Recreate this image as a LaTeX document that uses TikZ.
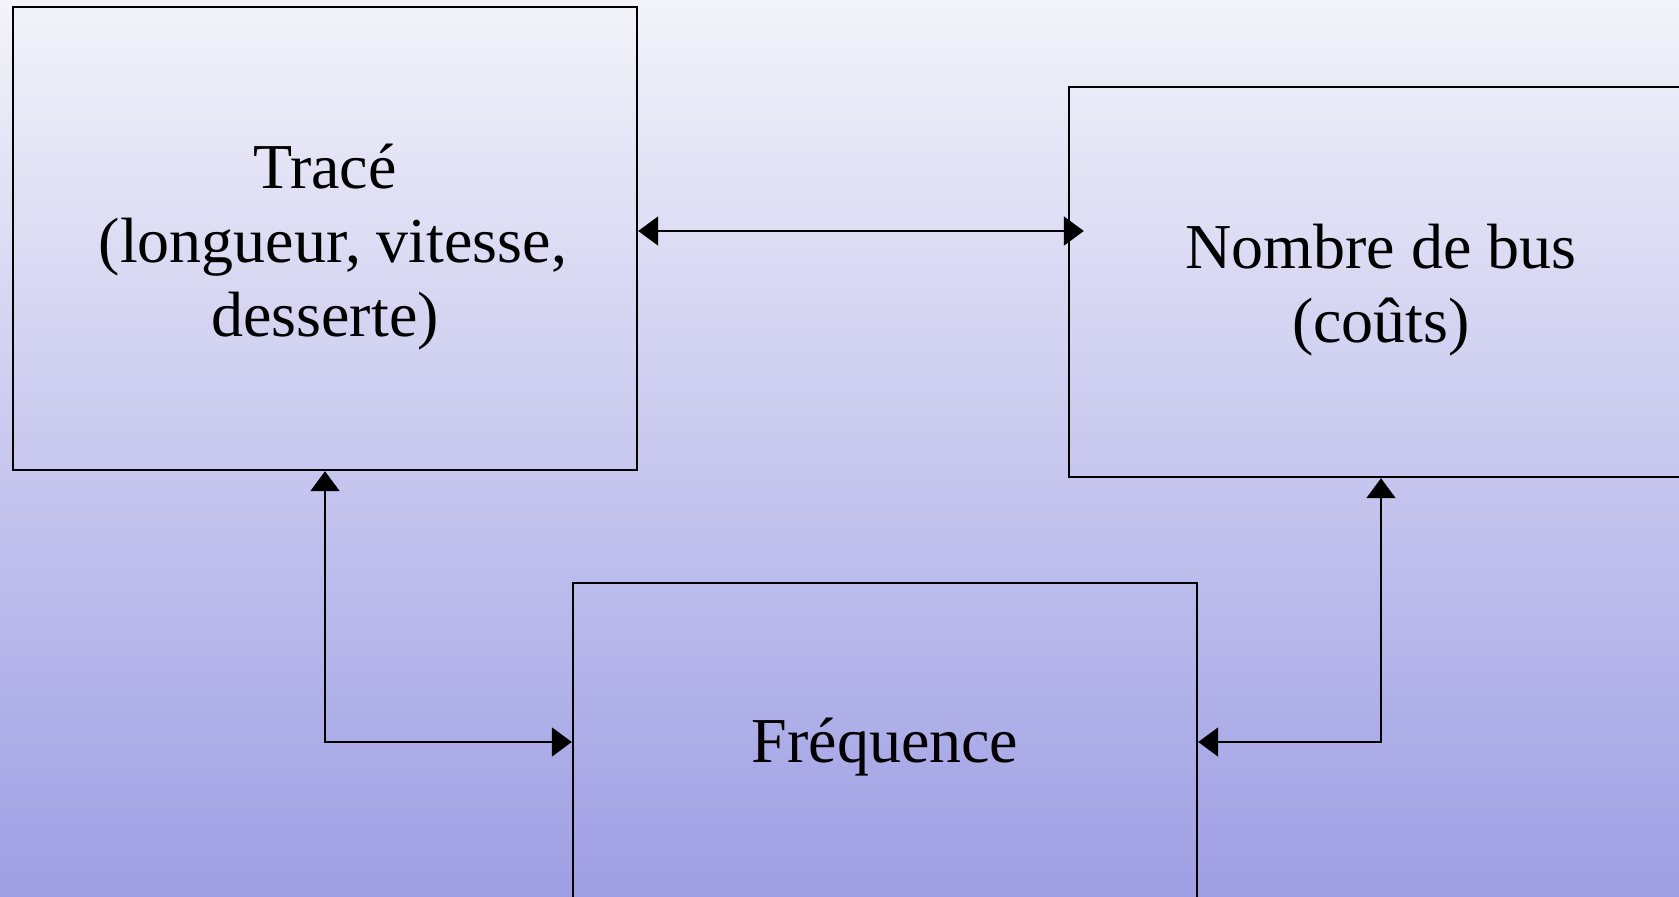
\documentclass[tikz,border=0pt]{standalone}
\usepackage{fontspec}
\setmainfont{Liberation Serif}
\usetikzlibrary{arrows.meta}
\definecolor{bgtop}{RGB}{243,243,250}
\definecolor{bgbot}{RGB}{158,158,228}
\begin{document}
\begin{tikzpicture}[x=1pt,y=-1pt,
  boxnode/.style={draw=black,line width=2.4pt,minimum width=624pt,inner sep=0pt},
  txt/.style={align=center,inner sep=0pt,font=\fontsize{64}{74}\selectfont},
  conn/.style={line width=2pt,{Triangle[length=20pt,width=29pt]}-{Triangle[length=20pt,width=29pt]}}]
\path[use as bounding box,clip] (0,0) rectangle (1679,897);
\shade[top color=bgtop,bottom color=bgbot] (0,0) rectangle (1679,897);
\node[boxnode,minimum height=463pt] (b1) at (325,238.5) {};
\node[boxnode,minimum height=390pt] (b2) at (1381,282) {};
\node[boxnode,minimum height=318pt] (b3) at (885,742) {};
\node[txt] (t1) at ([yshift=-8.5pt]b1.center) {Tracé\\\hspace*{16pt}(longueur, vitesse,\\desserte)};
\node[txt] (t2) at ([yshift=-8.5pt]b2.center) {Nombre de bus\\(coûts)};
\node[txt] (t3) at ([yshift=-5.5pt]b3.center) {Fréquence};
\coordinate (h) at (0,231);
\draw[conn,shorten >=-16pt] (b1.east |- h) -- (b2.west |- h);
\draw[conn] (b1.south) |- (b3.west);
\draw[conn] (b2.south) |- (b3.east);
\end{tikzpicture}
\end{document}
